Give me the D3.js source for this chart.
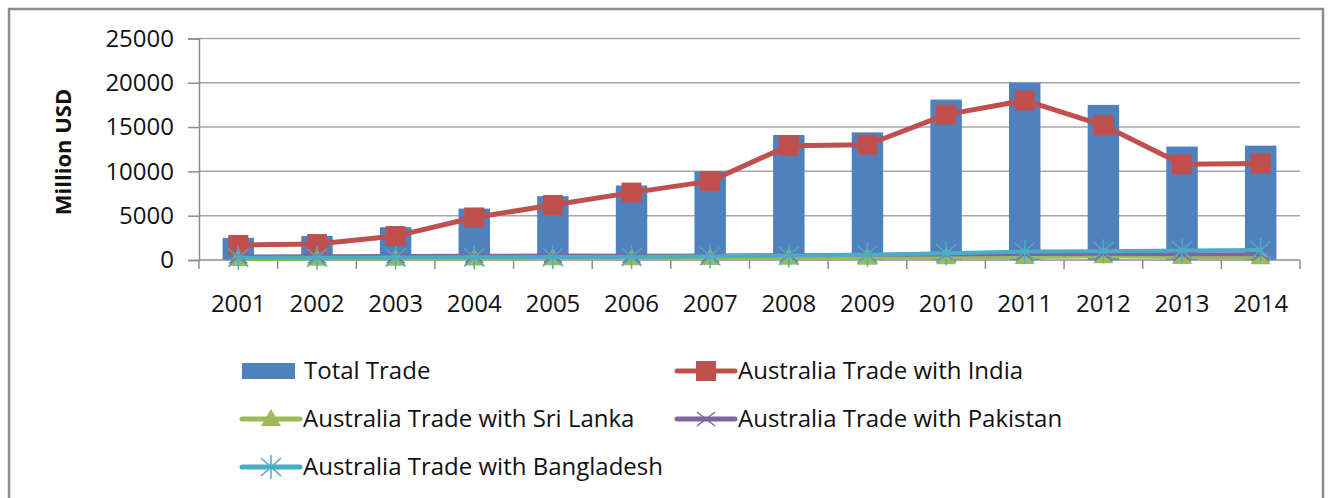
<!DOCTYPE html>
<html>
<head>
<meta charset="utf-8">
<script src="https://cdn.jsdelivr.net/npm/d3@7"></script>
<style>
  body { margin: 0; background: #fff; }
  svg { display: block; font-family: "Open Sans", sans-serif; }
</style>
</head>
<body>
<svg id="chart" width="1336" height="498"></svg>
<script>
// chart data
var years = ["2001","2002","2003","2004","2005","2006","2007","2008","2009","2010","2011","2012","2013","2014"];
var totalTrade = [2500, 2700, 3700, 5800, 7200, 8400, 10000, 14100, 14400, 18100, 20000, 17500, 12800, 12900];
var india = [1700, 1800, 2700, 4800, 6200, 7600, 8900, 12900, 13000, 16400, 18000, 15200, 10800, 10900];
var sriLanka = [120, 130, 150, 170, 190, 200, 220, 250, 260, 300, 350, 420, 330, 300];
var pakistan = [400, 420, 450, 480, 500, 480, 500, 550, 580, 620, 680, 700, 650, 650];
var bangladesh = [250, 260, 280, 300, 330, 350, 420, 500, 600, 750, 950, 1000, 1080, 1120];
var yTicks = [0, 5000, 10000, 15000, 20000, 25000];

var lineSeries = [
  {name: "Australia Trade with India", values: india, color: "#c0504d", marker: "square", width: 5},
  {name: "Australia Trade with Sri Lanka", values: sriLanka, color: "#9bbb59", marker: "triangle", width: 4},
  {name: "Australia Trade with Pakistan", values: pakistan, color: "#8064a2", marker: "cross", width: 4},
  {name: "Australia Trade with Bangladesh", values: bangladesh, color: "#4bacc6", marker: "star", width: 4}
];

var svg = d3.select("#chart");
// plot area edges
var plotLeft = 199, plotRight = 1300, plotTop = 38.4, plotBottom = 260;

// outer frame
svg.append("rect")
  .attr("x", 9).attr("y", 9).attr("width", 1314).attr("height", 520)
  .attr("fill", "none").attr("stroke", "#8c8c8c").attr("stroke-width", 2.5);

var x = d3.scaleBand().domain(years).range([plotLeft, plotRight]).paddingInner(0.6).paddingOuter(0.3);
var y = d3.scaleLinear().domain([0, 25000]).range([plotBottom, plotTop]);

// gridlines
svg.append("g").selectAll("line")
  .data(yTicks.filter(function(d) { return d > 0; }))
  .enter().append("line")
  .attr("x1", plotLeft).attr("x2", plotRight)
  .attr("y1", function(d) { return y(d); }).attr("y2", function(d) { return y(d); })
  .attr("stroke", "#a6a6a6").attr("stroke-width", 1.5);

// y axis
var yAxis = svg.append("g")
  .attr("transform", "translate(" + plotLeft + ",0)")
  .call(d3.axisLeft(y).tickValues(yTicks).tickSize(11).tickPadding(14).tickFormat(d3.format("d")));
yAxis.select(".domain").attr("stroke", "#8c8c8c").attr("stroke-width", 1.5);
yAxis.selectAll(".tick line").attr("stroke", "#8c8c8c").attr("stroke-width", 1.5);
yAxis.selectAll("text").attr("font-size", "24px").attr("fill", "#111").attr("font-family", "Open Sans");

svg.append("text")
  .attr("transform", "translate(71,152) rotate(-90)")
  .attr("text-anchor", "middle")
  .attr("font-size", "22px").attr("font-weight", "bold").attr("fill", "#111")
  .text("Million USD");

// bars
svg.append("g").selectAll("rect")
  .data(years)
  .enter().append("rect")
  .attr("x", function(d) { return x(d); })
  .attr("width", x.bandwidth())
  .attr("y", function(d, i) { return y(totalTrade[i]); })
  .attr("height", function(d, i) { return plotBottom - y(totalTrade[i]); })
  .attr("fill", "#4f81bd");

// x axis, ticks sit between categories
var bounds = d3.range(years.length + 1).map(function(i) { return plotLeft + i * (plotRight - plotLeft) / years.length; });
svg.append("line")
  .attr("x1", plotLeft).attr("x2", plotRight).attr("y1", plotBottom).attr("y2", plotBottom)
  .attr("stroke", "#8c8c8c").attr("stroke-width", 1.5);
svg.append("g").selectAll("line")
  .data(bounds)
  .enter().append("line")
  .attr("x1", function(d) { return d; }).attr("x2", function(d) { return d; })
  .attr("y1", plotBottom).attr("y2", plotBottom + 9)
  .attr("stroke", "#8c8c8c").attr("stroke-width", 1.5);
svg.append("g").selectAll("text")
  .data(years)
  .enter().append("text")
  .attr("x", function(d) { return x(d) + x.bandwidth() / 2; })
  .attr("y", 312)
  .attr("text-anchor", "middle")
  .attr("font-size", "24px").attr("fill", "#111")
  .text(function(d) { return d; });

// marker drawing
function drawMarker(g, type, color, cx, cy) {
  if (type == "square") {
    g.append("rect").attr("x", cx - 10).attr("y", cy - 10).attr("width", 20).attr("height", 20)
      .attr("fill", color);
  } else if (type == "triangle") {
    g.append("path").attr("d", "M" + cx + "," + (cy - 10) + "L" + (cx + 10) + "," + (cy + 7) + "L" + (cx - 10) + "," + (cy + 7) + "Z")
      .attr("fill", color);
  } else if (type == "cross") {
    g.append("path").attr("d", "M" + (cx - 9) + "," + (cy - 7) + "L" + (cx + 9) + "," + (cy + 7) + "M" + (cx - 9) + "," + (cy + 7) + "L" + (cx + 9) + "," + (cy - 7))
      .attr("stroke", color).attr("stroke-width", 1.5).attr("fill", "none");
  } else if (type == "star") {
    g.append("path").attr("d", "M" + (cx - 10) + "," + (cy - 9) + "L" + (cx + 10) + "," + (cy + 9) + "M" + (cx - 10) + "," + (cy + 9) + "L" + (cx + 10) + "," + (cy - 9) + "M" + cx + "," + (cy - 12) + "L" + cx + "," + (cy + 12))
      .attr("stroke", color).attr("stroke-width", 1.5).attr("fill", "none");
  }
}

// lines
var line = d3.line()
  .x(function(d, i) { return x(years[i]) + x.bandwidth() / 2; })
  .y(function(d) { return y(d); });

lineSeries.forEach(function(s) {
  var g = svg.append("g");
  g.append("path").attr("d", line(s.values))
    .attr("fill", "none").attr("stroke", s.color).attr("stroke-width", s.width)
    .attr("stroke-linejoin", "round");
  s.values.forEach(function(v, i) {
    drawMarker(g, s.marker, s.color, x(years[i]) + x.bandwidth() / 2, y(v));
  });
});

// legend
var legendItems = [
  {name: "Total Trade", color: "#4f81bd", marker: "bar", col: 0, row: 0},
  {name: lineSeries[0].name, color: lineSeries[0].color, marker: lineSeries[0].marker, col: 1, row: 0},
  {name: lineSeries[1].name, color: lineSeries[1].color, marker: lineSeries[1].marker, col: 0, row: 1},
  {name: lineSeries[2].name, color: lineSeries[2].color, marker: lineSeries[2].marker, col: 1, row: 1},
  {name: lineSeries[3].name, color: lineSeries[3].color, marker: lineSeries[3].marker, col: 0, row: 2}
];
var colX = [242, 677];
var rowY = [371, 419, 467];

legendItems.forEach(function(it) {
  var g = svg.append("g");
  var lx = colX[it.col], ly = rowY[it.row];
  if (it.marker == "bar") {
    g.append("rect").attr("x", lx).attr("y", ly - 8).attr("width", 53).attr("height", 16).attr("fill", it.color);
  } else {
    g.append("line").attr("x1", lx).attr("x2", lx + 58).attr("y1", ly).attr("y2", ly)
      .attr("stroke", it.color).attr("stroke-width", 5).attr("stroke-linecap", "round");
    drawMarker(g, it.marker, it.color, lx + 29, ly);
  }
  g.append("text")
    .attr("x", it.marker == "bar" ? lx + 62 : lx + 61)
    .attr("y", ly + 8)
    .attr("font-size", "24px").attr("fill", "#111")
    .text(it.name);
});
</script>
</body>
</html>
